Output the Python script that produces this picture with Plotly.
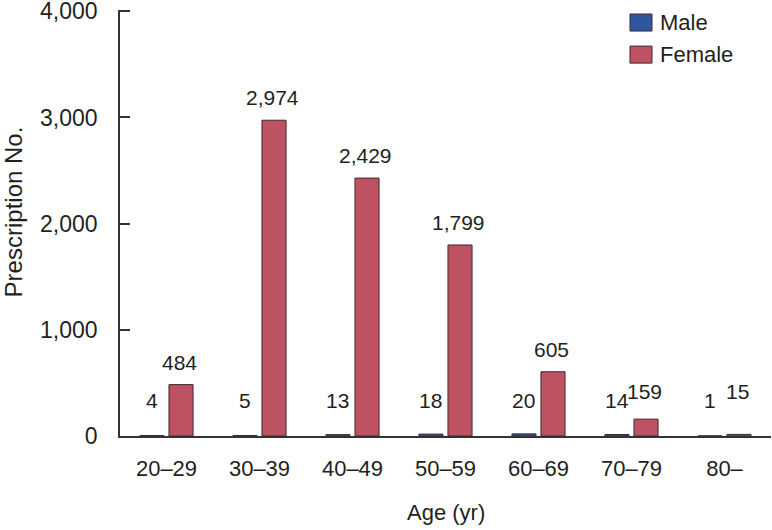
import plotly.graph_objects as go

categories = ["20–29", "30–39", "40–49", "50–59", "60–69", "70–79", "80–"]
male = [4, 5, 13, 18, 20, 14, 1]
female = [484, 2974, 2429, 1799, 605, 159, 15]
y_ticks = [0, 1000, 2000, 3000, 4000]
y_tick_labels = ["0", "1,000", "2,000", "3,000", "4,000"]

FONT = "Liberation Sans, Arial, sans-serif"
TXT = "#231f20"
MALE_C = "#2f57a0"
FEMALE_C = "#bf5262"
EDGE = "#3a2b2e"

Y_MAX = 4012
PLOT_BOTTOM = 436
PLOT_H = 425 * Y_MAX / 4000
TOP = PLOT_BOTTOM - PLOT_H

fig = go.Figure()
fig.add_trace(go.Bar(x=categories, y=male, name="Male",
                     marker=dict(color=MALE_C, line=dict(color=EDGE, width=1)),
                     showlegend=False))
fig.add_trace(go.Bar(x=categories, y=female, name="Female",
                     marker=dict(color=FEMALE_C, line=dict(color=EDGE, width=1)),
                     showlegend=False))

annotations = []
# male labels at a fixed height above the baseline
for c, v in zip(categories, male):
    annotations.append(dict(x=c, y=0, xref="x", yref="y", text=f"{v:,}",
                            showarrow=False, xshift=-15, yanchor="bottom", yshift=22,
                            font=dict(family=FONT, size=21, color=TXT)))
# female labels above bars (never lower than male label height)
for c, v in zip(categories, female):
    annotations.append(dict(x=c, y=max(v, 205), xref="x", yref="y", text=f"{v:,}",
                            showarrow=False, xshift=13, yanchor="bottom", yshift=9,
                            font=dict(family=FONT, size=21, color=TXT)))

# axis titles
annotations.append(dict(x=-0.163, y=0.527, xref="paper", yref="paper", text="Prescription No.",
                        textangle=-90, showarrow=False, xanchor="center", yanchor="middle",
                        font=dict(family=FONT, size=24, color=TXT)))
annotations.append(dict(x=0.5, y=-0.18, xref="paper", yref="paper", text="Age (yr)",
                        showarrow=False, xanchor="center", yanchor="middle",
                        font=dict(family=FONT, size=22, color=TXT)))

# legend (drawn manually to match the larger swatches)
shapes = []
legend_items = [("Male", MALE_C, 0.9906, 0.9506), ("Female", FEMALE_C, 0.9153, 0.8753)]
for name, col, y0, y1 in legend_items:
    shapes.append(dict(type="rect", xref="paper", yref="paper", x0=0.7834, x1=0.8172,
                       y0=y1, y1=y0, fillcolor=col, line=dict(color=EDGE, width=1)))
    annotations.append(dict(x=0.8264, y=(y0 + y1) / 2, xref="paper", yref="paper", text=name,
                            showarrow=False, xanchor="left", yanchor="middle",
                            font=dict(family=FONT, size=22, color=TXT)))

fig.update_layout(
    width=772, height=530,
    margin=dict(l=120, r=1, t=TOP, b=530 - PLOT_BOTTOM, autoexpand=False),
    paper_bgcolor="white", plot_bgcolor="white",
    barmode="group", bargap=0.376, bargroupgap=0.17,
    font=dict(family=FONT, size=22, color=TXT),
    annotations=annotations, shapes=shapes,
    showlegend=False,
)
fig.update_xaxes(showline=True, linecolor="#333333", linewidth=1.5, ticks="",
                 showgrid=False, tickfont=dict(family=FONT, size=22, color=TXT),
                 ticklabelstandoff=12, automargin=False)
fig.update_yaxes(range=[0, Y_MAX], tickvals=y_ticks, ticktext=y_tick_labels,
                 showline=True, linecolor="#333333", linewidth=1.5,
                 ticks="inside", ticklen=10, tickcolor="#333333", tickwidth=1.5,
                 showgrid=False, zeroline=False, automargin=False,
                 ticklabeloverflow="allow",
                 tickfont=dict(family=FONT, size=23, color=TXT), ticklabelstandoff=16)

fig.write_html("out.html", config={"displayModeBar": False},
               post_script="document.body.style.margin='0';document.body.style.overflow='hidden';")
